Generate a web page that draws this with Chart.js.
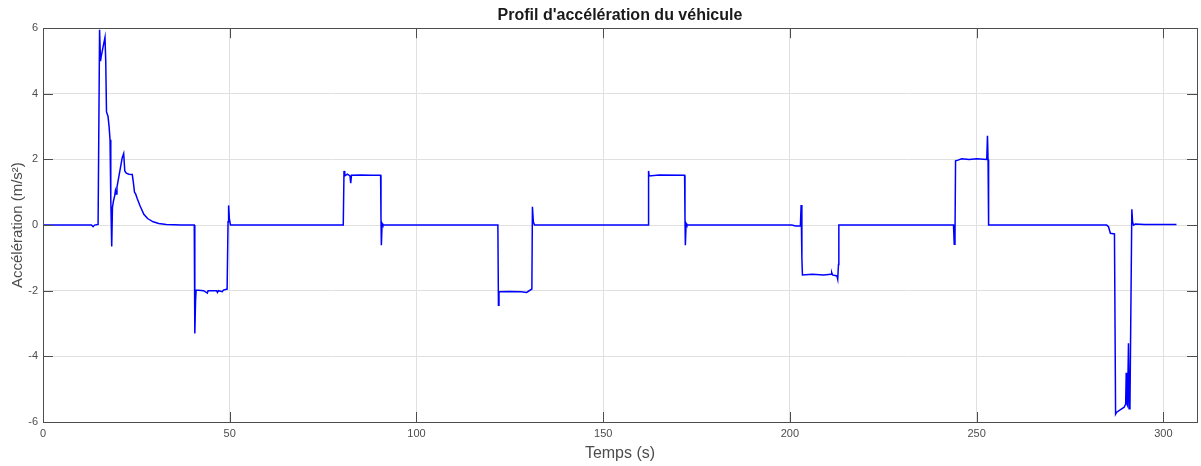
<!DOCTYPE html>
<html lang="fr">
<head>
<meta charset="utf-8">
<title>Profil d'accélération du véhicule</title>
<script src="https://cdn.jsdelivr.net/npm/chart.js@4.4.1/dist/chart.umd.min.js"></script>
<style>
  html, body { margin: 0; padding: 0; background: #fff; }
  canvas { display: block; }
</style>
</head>
<body>
<canvas id="myChart" width="1201" height="466"></canvas>
<script>
// temps (s) et accélération (m/s²) relevés le long du cycle
const timeS = [
  0, 13.0, 13.4, 13.8, 14.75, 15.15, 15.4, 15.6, 16.6, 16.8,
  17.0, 17.4, 17.7, 17.95, 18.15, 18.4, 18.6, 18.9, 19.2, 19.4,
  19.6, 19.8, 20.5, 21.2, 21.6, 21.9, 22.3, 23.0, 23.9, 24.2,
  24.5, 24.8, 25.2, 26.0, 27.0, 28.0, 29.5, 31.0, 33.0, 35.0,
  37.0, 40.5, 40.65, 40.85, 41.0, 43.0, 44.0, 44.2, 46.5, 46.7,
  47.0, 48.0, 48.3, 49.3, 49.55, 49.7, 49.9, 50.2,
  80.4, 80.6, 80.8, 81.5, 82.2, 82.4, 82.6, 85.0, 88.0, 90.4,
  90.5, 90.6, 90.8, 91.0,
  121.8, 121.95, 122.1, 125.0, 128.0, 129.5, 130.6, 130.9, 131.05, 131.3,
  131.6,
  162.0, 162.15, 162.3, 165.0, 171.8, 171.9, 172.0, 172.2, 172.4,
  200.5, 201.5, 202.8, 203.0, 203.2, 203.35, 206.0, 209.0, 211.0, 211.2,
  211.4, 212.6, 212.8, 213.0, 213.1,
  243.8, 244.0, 244.2, 244.35, 245.0, 246.0, 248.0, 250.0, 252.7, 252.9,
  253.05, 253.2,
  284.8, 285.3, 285.8, 286.9, 287.2, 287.5, 289.5, 289.9, 290.05, 290.2,
  290.4, 290.65, 290.85, 291.05, 291.55, 291.75, 292.0, 292.5, 295.0, 303.5,
];
const accel = [
  0, 0, -0.05, 0, 0.02, 5.95, 5.0, 5.15, 5.72, 5.0,
  3.45, 3.32, 3.0, 2.6, 0.8, -0.65, 0.55, 0.75, 0.9, 1.05,
  0.95, 1.15, 1.6, 2.05, 2.18, 1.65, 1.58, 1.55, 1.54, 1.3,
  1.0, 0.95, 0.82, 0.58, 0.33, 0.2, 0.1, 0.05, 0.02, 0.01,
  0, 0, -3.3, -2.3, -1.98, -2.0, -2.07, -2.0, -2.0, -2.05,
  -2.0, -2.03, -1.98, -1.95, 0.1, 0.6, 0.2, 0,
  0, 1.65, 1.5, 1.55, 1.5, 1.28, 1.52, 1.53, 1.52, 1.52,
  0.2, -0.61, 0.05, 0,
  0, -2.44, -2.03, -2.02, -2.03, -2.05, -1.97, -1.95, 0.56, 0.1,
  0,
  0, 1.65, 1.5, 1.53, 1.52, 0.2, -0.61, 0.05, 0,
  0, -0.03, -0.02, 0.61, -1.0, -1.52, -1.5, -1.52, -1.5, -1.45,
  -1.52, -1.55, -1.65, -1.2, 0,
  0, -0.58, -0.3, 1.96, 1.98, 2.02, 2.0, 2.02, 2.0, 2.72,
  2.0, 0,
  0, -0.05, -0.25, -0.27, -5.76, -5.7, -5.55, -5.45, -4.5, -5.45,
  -5.5, -3.6, -5.6, -5.5, 0.48, 0.1, 0, 0.03, 0.02, 0.02,
];
const xTicks = [0, 50, 100, 150, 200, 250, 300];
const yTicks = [-6, -4, -2, 0, 2, 4, 6];

const FONT = "'Liberation Sans', Arial, Helvetica, sans-serif";
const AXIS_COLOR = "#4d4d4d";

// cadre complet + graduations vers l'intérieur, façon MATLAB
const boxPlugin = {
  id: "box",
  afterDraw: (chart) => {
    const { ctx, chartArea: a, scales } = chart;
    const len = 10;
    ctx.save();
    ctx.strokeStyle = AXIS_COLOR;
    ctx.lineWidth = 1;
    ctx.beginPath();
    xTicks.forEach((v) => {
      const px = Math.round(scales.x.getPixelForValue(v)) + 0.5;
      ctx.moveTo(px, a.bottom);
      ctx.lineTo(px, a.bottom - len);
      ctx.moveTo(px, a.top);
      ctx.lineTo(px, a.top + len);
    });
    yTicks.forEach((v) => {
      const py = Math.round(scales.y.getPixelForValue(v)) + 0.5;
      ctx.moveTo(a.left, py);
      ctx.lineTo(a.left + len, py);
      ctx.moveTo(a.right, py);
      ctx.lineTo(a.right - len, py);
    });
    ctx.stroke();
    ctx.strokeRect(Math.round(a.left) + 0.5, Math.round(a.top) + 0.5,
      Math.round(a.right - a.left), Math.round(a.bottom - a.top));
    ctx.restore();
  },
};

const ctx = document.getElementById("myChart").getContext("2d");

const myChart = new Chart(ctx, {
  type: "line",
  data: {
    datasets: [
      {
        label: "Accélération",
        data: timeS.map((t, i) => ({ x: t, y: accel[i] })),
        borderColor: "#0000ff",
        borderWidth: 1.5,
        pointRadius: 0,
        tension: 0,
        fill: false,
      },
    ],
  },
  options: {
    responsive: false,
    animation: false,
    devicePixelRatio: 1,
    layout: { padding: { left: 0, right: 4, top: 0, bottom: 0 } },
    plugins: {
      legend: { display: false },
      tooltip: { enabled: false },
      title: {
        display: true,
        fullSize: false,
        text: "Profil d'accélération du véhicule",
        color: "#1a1a1a",
        font: { family: FONT, size: 16, weight: "bold" },
        padding: { top: 6, bottom: 3 },
      },
    },
    scales: {
      x: {
        type: "linear",
        min: 0,
        max: 309,
        afterFit: (scale) => {
          scale.height = 44;
        },
        afterBuildTicks: (scale) => {
          scale.ticks = xTicks.map((v) => ({ value: v }));
        },
        ticks: {
          color: AXIS_COLOR,
          font: { family: FONT, size: 11 },
          padding: 5,
          maxRotation: 0,
        },
        grid: { color: "#e0e0e0", drawTicks: false },
        border: { display: false },
        title: {
          display: true,
          text: "Temps (s)",
          color: AXIS_COLOR,
          font: { family: FONT, size: 16 },
          padding: { top: 0, bottom: 3 },
        },
      },
      y: {
        min: -6,
        max: 6,
        afterFit: (scale) => {
          scale.width = 43;
        },
        afterBuildTicks: (scale) => {
          scale.ticks = yTicks.map((v) => ({ value: v }));
        },
        ticks: {
          color: AXIS_COLOR,
          font: { family: FONT, size: 11 },
          padding: 5,
        },
        grid: { color: "#e0e0e0", drawTicks: false },
        border: { display: false },
        title: {
          display: true,
          text: "Accélération (m/s²)",
          color: AXIS_COLOR,
          font: { family: FONT, size: 15 },
          padding: { top: 9, bottom: 0 },
        },
      },
    },
  },
  plugins: [boxPlugin],
});
</script>
</body>
</html>
